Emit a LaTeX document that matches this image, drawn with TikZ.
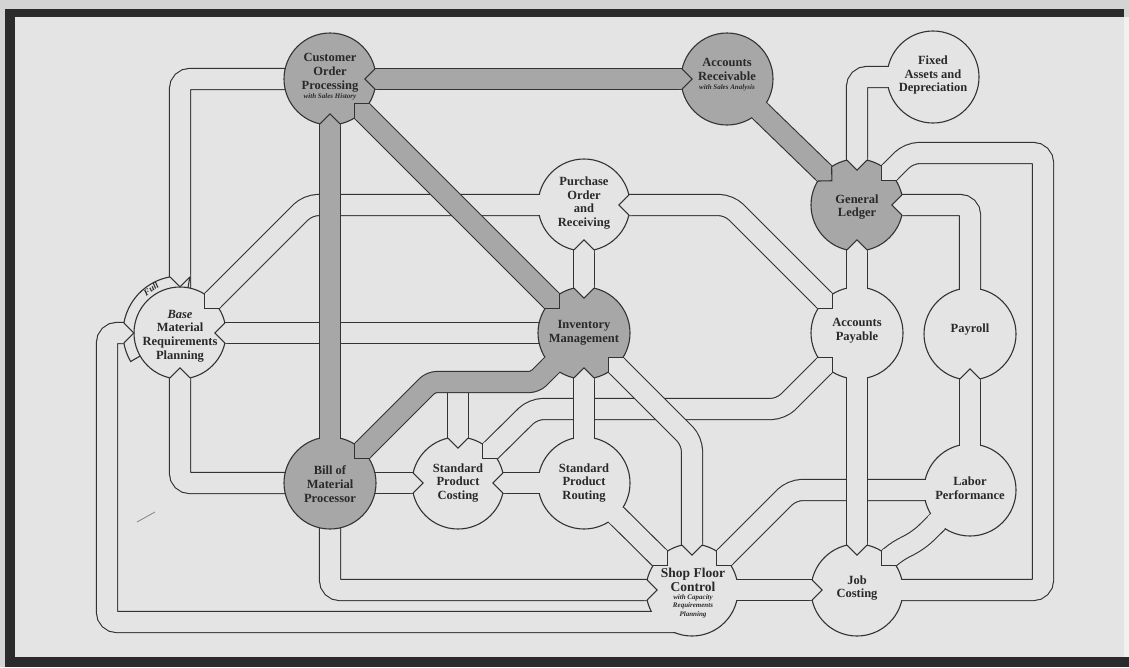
\documentclass[tikz,border=0pt]{standalone}
\usepackage{fontspec}
\setmainfont{Liberation Serif}
\usetikzlibrary{calc}
\definecolor{paper}{HTML}{E4E4E4}
\definecolor{margin}{HTML}{D4D4D4}
\definecolor{frame}{HTML}{2B2B2B}
\definecolor{tube}{HTML}{A7A7A7}
\definecolor{ink}{HTML}{333333}
\newcommand{\tinyital}{\bfseries\itshape\fontsize{7}{8.5}\selectfont}
% V-shaped inlet where a pipe enters a process circle
\newcommand{\pipenotch}[4][46]{%
  \pgfmathsetmacro\nouter{sqrt(#1*#1-100)}%
  \pgfmathsetmacro\ntip{\nouter-10}%
  \pgfmathsetmacro\ncap{\nouter+3}%
  \begin{scope}[shift={(#2)}, rotate=#3]
    \fill[#4] (\ncap,-10) -- (\nouter,-10) -- (\ntip,0) -- (\nouter,10) -- (\ncap,10) -- cycle;
    \draw[ln] (\nouter,-10) -- (\ntip,0) -- (\nouter,10);
  \end{scope}}
% plain open end of a pipe
\newcommand{\pipeopen}[3]{%
  \begin{scope}[shift={(#1)}, rotate=#2]
    \fill[#3] (34,-10) rectangle (49,10);
  \end{scope}}
\begin{document}
\begin{tikzpicture}[x=1pt, y=1pt, yscale=-1,
  ln/.style={draw=ink, line width=1.1pt},
  pipe/.style={draw=ink, line width=1.1pt, double=#1, double distance=20pt, rounded corners=10pt},
  pipe/.default=paper,
  hub/.style={ln, fill=#1},
  hub/.default=paper,
  lbl/.style={font=\bfseries\fontsize{12.5}{13.8}\selectfont, align=center, text=ink!80!black, inner sep=0pt}]
\useasboundingbox (0,0) rectangle (1129,667);
% frame
\fill[margin] (0,0) rectangle (1129,667);
\fill[frame] (5,9) rectangle (1124,17);
\fill[frame] (5,9) rectangle (15,667);
\fill[frame] (5,657) rectangle (1129,667);
\fill[paper] (15,17) rectangle (1124,657);
\fill[paper!50!white] (1124,17) rectangle (1129,657);

% process centres
\coordinate (COP) at (330,79);
\coordinate (AR) at (727,79);
\coordinate (FAD) at (933,77);
\coordinate (GL) at (857,205);
\coordinate (POR) at (584,205);
\coordinate (MRP) at (180,333);
\coordinate (IM) at (584,333);
\coordinate (AP) at (857,333);
\coordinate (PAY) at (970,334);
\coordinate (BOM) at (330,483);
\coordinate (SPC) at (458,483);
\coordinate (SPR) at (584,483);
\coordinate (SFC) at (692,590);
\coordinate (LP) at (970,490);
\coordinate (JC) at (857,590);
\coordinate (BJ) at (458,382);
\coordinate (SFCin) at (692,622);

% pipes passing underneath
\draw[pipe] (MRP) -- (IM);
\draw[pipe] (MRP) -- ++(128,-128) -- (POR);
\draw[pipe] (AP) -- ++(-76,76) -- ++(-248,0) -- (SPC);
\draw[pipe] (SFC) -- ++(100,-100) -- (LP);
\draw[pipe] (SPC) -- (BJ);
% other plain pipes
\draw[pipe] (MRP) |- (COP);
\draw[pipe] (MRP) |- (BOM);
\draw[pipe] (MRP) -- ++(-73,0) |- (SFCin);
\draw[pipe] (BOM) |- (SFC);
\draw[pipe] (BOM) -- (SPC);
\draw[pipe] (SPC) -- (SPR);
\draw[pipe] (SPR) -- (SFC);
\draw[pipe] (IM) -- (SPR);
\draw[pipe] (IM) -- ++(108,108) -- (SFC);
\draw[pipe] (POR) -- (IM);
\draw[pipe] (POR) -- ++(145,0) -- (AP);
\draw[pipe] (FAD) -| (GL);
\draw[pipe] (GL) -- ++(52,-52) -- ++(134,0) |- (JC);
\draw[pipe] (GL) -| (PAY);
\draw[pipe] (GL) -- (AP);
\draw[pipe] (AP) -- (JC);
\draw[pipe] (PAY) -- (LP);
\draw[pipe] (JC) -- ++(37,-37) -- ++(25,-13) -- (LP);
\draw[pipe] (SFC) -- (JC);
% shaded pipes
\draw[pipe=tube, rounded corners=6pt] (IM) -- ++(-49,49) -- ++(-104,0) -- (BOM);
\draw[pipe=tube] (COP) -- (BOM);
\draw[pipe=tube] (COP) -- (IM);
\draw[pipe=tube] (COP) -- (AR);
\draw[pipe=tube] (AR) -- (GL);

% process circles
\fill[paper] (MRP) -- ++(150:57) arc[start angle=150, end angle=280, radius=57] -- cycle;
\draw[hub] (MRP) circle[radius=46];
\draw[ln] ($(MRP)+(150:46)$) -- ($(MRP)+(150:57)$) arc[start angle=150, end angle=280, radius=57] -- ($(MRP)+(280:46)$);
\foreach \c in {FAD,POR,AP,PAY,SPC,SPR,SFC,LP,JC}
  \draw[hub] (\c) circle[radius=46];
\foreach \c in {COP,AR,GL,IM,BOM}
  \draw[hub=tube] (\c) circle[radius=46];

% inlets
\pipenotch{COP}{0}{tube}
\pipenotch{COP}{45}{tube}
\pipenotch{COP}{90}{tube}
\pipenotch{AR}{180}{tube}
\pipenotch{GL}{224}{tube}
\pipenotch{GL}{-90}{paper}
\pipenotch{GL}{-45}{paper}
\pipenotch{GL}{0}{paper}
\pipenotch{GL}{90}{paper}
\pipenotch{POR}{0}{paper}
\pipenotch{POR}{90}{paper}
\pipenotch[57]{MRP}{-90}{paper}
\pipenotch[57]{MRP}{180}{paper}
\pipenotch{MRP}{90}{paper}
\pipenotch{MRP}{0}{paper}
\pipenotch{MRP}{-45}{paper}
\pipenotch{IM}{-90}{paper}
\pipenotch{IM}{90}{paper}
\pipenotch{IM}{45}{paper}
\pipenotch{IM}{225}{tube}
\pipenotch{AP}{225}{paper}
\pipenotch{AP}{135}{paper}
\pipenotch{PAY}{90}{paper}
\pipenotch{BOM}{-45}{tube}
\pipenotch{SPC}{180}{paper}
\pipenotch{SPC}{-90}{paper}
\pipenotch{SPC}{-45}{paper}
\pipenotch{SPC}{0}{paper}
\pipenotch{SFC}{180}{paper}
\pipenotch{SFC}{-90}{paper}
\pipenotch{SFC}{-45}{paper}
\pipenotch{SFC}{225}{paper}
\pipenotch{JC}{-90}{paper}
\pipenotch{JC}{-45}{paper}
\pipenotch{JC}{180}{paper}
% open ends
\pipeopen{AR}{44}{tube}
\pipeopen{IM}{135}{tube}
\pipeopen{BOM}{-90}{tube}
\pipeopen{FAD}{180}{paper}
\pipeopen{PAY}{-90}{paper}
\pipeopen{AP}{-90}{paper}
\pipeopen{AP}{90}{paper}
\pipeopen{POR}{180}{paper}
\pipeopen{SPR}{-90}{paper}
\pipeopen{SPR}{180}{paper}
\pipeopen{SPR}{45}{paper}
\pipeopen{SFC}{0}{paper}
\pipeopen{LP}{-90}{paper}
\pipeopen{LP}{136}{paper}
\pipeopen{LP}{180}{paper}
\pipeopen{JC}{0}{paper}
\fill[paper] ($(SFC)+(-49,22)$) rectangle ($(SFC)+(-15,42)$);

\draw[ink!60, line width=0.8pt] (137,522) -- (155,512);

% labels
\node[lbl] (COPl) at (330,77) {Customer\\Order\\Processing\\[-4.5pt]{\tinyital with Sales History}};
\node[lbl] (ARl) at (727,75) {Accounts\\Receivable\\[-4.5pt]{\tinyital with Sales Analysis}};
\node[lbl] (FADl) at (933,75) {Fixed\\Assets and\\Depreciation};
\node[lbl] (GLl) at (857,207) {General\\Ledger};
\node[lbl] (PORl) at (584,203) {Purchase\\Order\\and\\Receiving};
\node[lbl] (MRPl) at (180,336) {\textit{Base}\\Material\\Requirements\\Planning};
\node[lbl] (IMl) at (584,333) {Inventory\\Management};
\node[lbl] (APl) at (857,331) {Accounts\\Payable};
\node[lbl] (PAYl) at (970,330) {Payroll};
\node[lbl] (BOMl) at (330,484) {Bill of\\Material\\Processor};
\node[lbl] (SPCl) at (458,483) {Standard\\Product\\Costing};
\node[lbl] (SPRl) at (584,483) {Standard\\Product\\Routing};
\node[lbl, font=\bfseries\fontsize{13.5}{13.5}\selectfont] (SFCl) at (693,580) {Shop Floor\\Control};
\node[lbl, font=\tinyital] (SFCs) at (693,606) {with Capacity\\Requirements\\Planning};
\node[lbl] (LPl) at (970,488) {Labor\\Performance};
\node[lbl] (JCl) at (857,588) {Job\\Costing};
\node[rotate=34, font=\bfseries\itshape\fontsize{9}{9}\selectfont, text=ink!80!black, inner sep=0pt] (FULLl) at (151,289) {Full};
\end{tikzpicture}
\end{document}
